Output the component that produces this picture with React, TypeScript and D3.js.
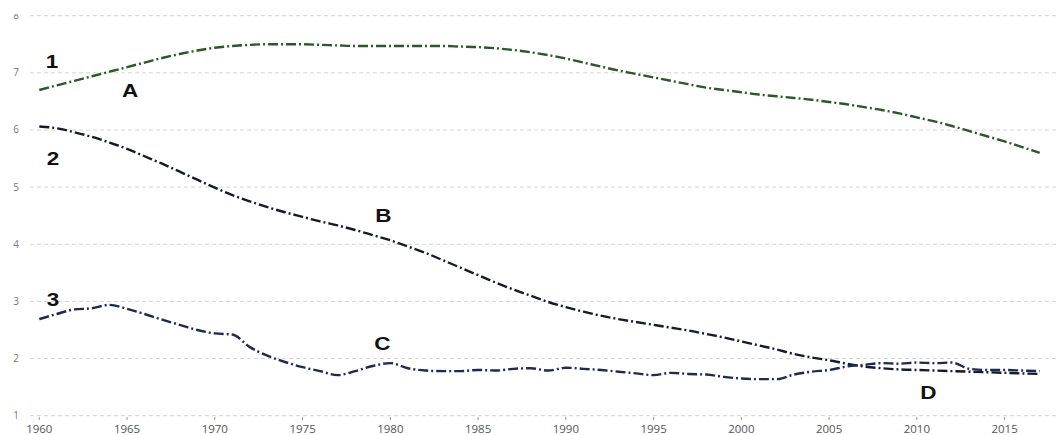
import React from "react";
import * as d3 from "d3";

const years: number[] = d3.range(1960, 2018);

const seriesA: number[] = [
  6.70, 6.78, 6.86, 6.94, 7.02, 7.10, 7.18, 7.26, 7.33, 7.39,
  7.44, 7.47, 7.49, 7.50, 7.50, 7.50, 7.49, 7.48, 7.47, 7.47,
  7.47, 7.47, 7.47, 7.47, 7.46, 7.45, 7.43, 7.40, 7.36, 7.31,
  7.25, 7.18, 7.11, 7.04, 6.98, 6.92, 6.86, 6.80, 6.74, 6.70,
  6.66, 6.62, 6.59, 6.56, 6.53, 6.49, 6.45, 6.40, 6.35, 6.29,
  6.22, 6.15, 6.07, 5.98, 5.89, 5.80, 5.70, 5.60,
];

const seriesB: number[] = [
  6.06, 6.03, 5.96, 5.88, 5.78, 5.67, 5.54, 5.41, 5.27, 5.13,
  4.99, 4.86, 4.75, 4.65, 4.56, 4.48, 4.40, 4.33, 4.25, 4.16,
  4.07, 3.96, 3.85, 3.72, 3.59, 3.46, 3.33, 3.21, 3.10, 2.99,
  2.90, 2.82, 2.75, 2.69, 2.64, 2.59, 2.54, 2.49, 2.43, 2.37,
  2.30, 2.23, 2.16, 2.08, 2.02, 1.97, 1.91, 1.86, 1.83, 1.81,
  1.80, 1.79, 1.78, 1.77, 1.76, 1.75, 1.74, 1.73,
];

const seriesC: number[] = [
  2.69, 2.78, 2.86, 2.88, 2.94, 2.87, 2.78, 2.68, 2.59, 2.50,
  2.44, 2.42, 2.20, 2.05, 1.94, 1.85, 1.78, 1.71, 1.78, 1.87,
  1.92, 1.83, 1.79, 1.78, 1.78, 1.80, 1.79, 1.82, 1.83, 1.79,
  1.84, 1.82, 1.80, 1.77, 1.74, 1.71, 1.75, 1.73, 1.72, 1.68,
  1.65, 1.64, 1.64, 1.72, 1.77, 1.80, 1.86, 1.89, 1.92, 1.91,
  1.93, 1.92, 1.93, 1.82, 1.80, 1.80, 1.79, 1.78,
];

const yTicks: number[] = [1, 2, 3, 4, 5, 6, 7, 8];
const xTicks: number[] = [1960, 1965, 1970, 1975, 1980, 1985, 1990, 1995, 2000, 2005, 2010, 2015];

// annotation labels: [text, year, value]
const annotations: [string, number, number][] = [
  ["1", 1960.72, 7.08],
  ["A", 1965.17, 6.58],
  ["2", 1960.78, 5.39],
  ["B", 1979.6, 4.395],
  ["3", 1960.78, 2.92],
  ["C", 1979.55, 2.15],
  ["D", 2010.65, 1.3],
];

const W = 1056;
const H = 435;

export default function App() {
  const x = d3.scaleLinear().domain([1960, 2017]).range([39.3, 1039.7]);
  const y = d3.scaleLinear().domain([1, 8]).range([415.7, 15.7]);

  const line = d3
    .line<[number, number]>()
    .x((d) => x(d[0]))
    .y((d) => y(d[1]))
    .curve(d3.curveMonotoneX);

  const mk = (vals: number[]) => years.map((yr, i) => [yr, vals[i]] as [number, number]);

  const series = [
    { vals: seriesA, color: "#285a24" },
    { vals: seriesB, color: "#151a2f" },
    { vals: seriesC, color: "#1c2b52" },
  ];

  return (
    <svg
      width={W}
      height={H}
      style={{ position: "absolute", left: 0, top: 0, background: "#fff" }}
    >
      <defs>
        <clipPath id="ylabclip">
          <rect x={0} y={14.3} width={40} height={H} />
        </clipPath>
      </defs>
      <rect x={0} y={0} width={W} height={H} fill="#fff" />
      {yTicks.map((t) => (
        <line
          key={"g" + t}
          x1={30}
          x2={W}
          y1={y(t)}
          y2={y(t)}
          stroke="#d4d4d4"
          strokeWidth={1}
          strokeDasharray="4,3"
        />
      ))}
      <g clipPath="url(#ylabclip)">
        {yTicks.map((t) => (
          <text
            key={"yl" + t}
            x={16}
            y={y(t)}
            dy="0.35em"
            textAnchor="middle"
            fontFamily="'Open Sans', sans-serif"
            fontSize={10}
            fill="#777"
          >
            {t}
          </text>
        ))}
      </g>
      {xTicks.map((t) => (
        <g key={"x" + t}>
          <line x1={x(t)} x2={x(t)} y1={417} y2={420} stroke="#999" strokeWidth={1} />
          <text
            x={x(t)}
            y={429}
            dy="0.35em"
            textAnchor="middle"
            fontFamily="'Open Sans', sans-serif"
            fontSize={11.5}
            fill="#555"
          >
            {t}
          </text>
        </g>
      ))}
      {series.map((s, i) => (
        <path
          key={"s" + i}
          d={line(mk(s.vals)) || ""}
          fill="none"
          stroke={s.color}
          strokeWidth={2.4}
          strokeDasharray="10,3,2,3"
        />
      ))}
      {annotations.map(([txt, yr, v]) => (
        <text
          key={"a" + txt}
          transform={`translate(${x(yr)},${y(v)}) scale(1.25,1)`}
          textAnchor="middle"
          fontFamily="'Liberation Sans', Arial, sans-serif"
          fontWeight="bold"
          fontSize={18}
          fill="#111"
        >
          {txt}
        </text>
      ))}
    </svg>
  );
}
